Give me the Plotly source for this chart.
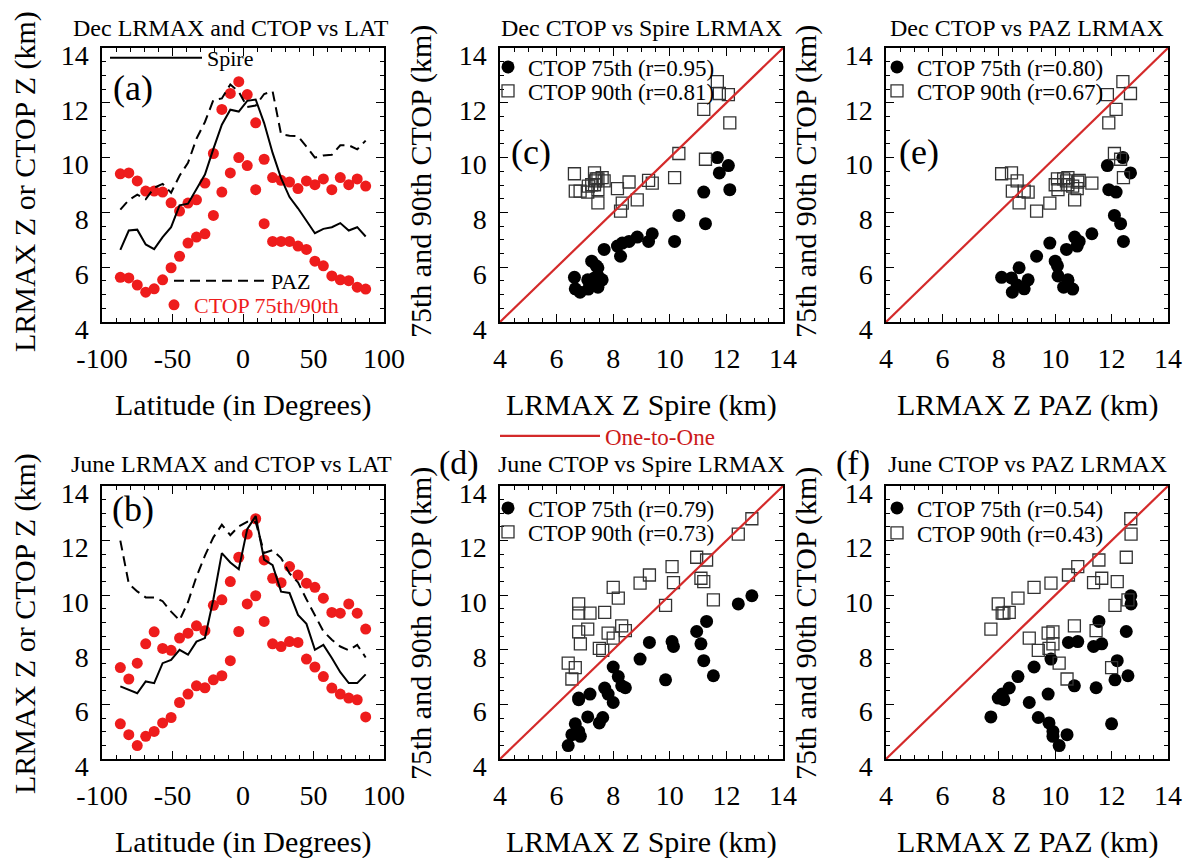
import plotly.graph_objects as go

# ---------------- data ----------------
lat = [-87, -81, -75, -69, -63, -57, -51, -45, -39, -33, -27, -21, -15, -9, -3,
       3, 9, 15, 21, 27, 33, 39, 45, 51, 57, 63, 69, 75, 81, 87]

# December
spire_dec = [6.63, 7.34, 7.37, 6.83, 6.66, 7.10, 7.46, 8.26, 8.32, 8.85, 9.38, 10.32, 11.20, 11.75, 11.68,
             12.07, 12.12, 11.26, 10.17, 9.25, 8.56, 8.15, 7.68, 7.24, 7.40, 7.46, 7.61, 7.34, 7.46, 7.12]
paz_dec = [8.10, 8.45, 8.65, 8.48, 8.90, 9.04, 8.72, 9.34, 9.81, 10.69, 11.30, 12.10, 12.16, 12.67, 12.40,
           11.85, 11.90, 12.32, 12.42, 10.85, 10.80, 10.78, 10.40, 10.00, 10.08, 10.10, 10.45, 10.45, 10.30, 10.62]
ctop75_dec = [5.63, 5.61, 5.35, 5.09, 5.21, 5.54, 5.98, 6.40, 6.88, 7.10, 7.22, 7.89, 8.74, 9.44, 10.00,
              9.71, 8.83, 7.59, 6.94, 6.94, 6.94, 6.77, 6.65, 6.22, 6.05, 5.68, 5.54, 5.51, 5.27, 5.20]
ctop90_dec = [9.41, 9.44, 9.15, 8.78, 8.78, 8.74, 8.35, 8.05, 8.34, 8.46, 9.07, 10.15, 11.76, 12.34, 12.77,
              12.30, 11.27, 9.94, 9.27, 9.17, 9.11, 8.87, 9.15, 9.01, 9.22, 8.83, 9.27, 9.01, 9.22, 8.96]

# June
spire_jun = [6.66, 6.54, 6.41, 6.84, 6.78, 7.51, 7.63, 8.00, 7.82, 8.30, 8.43, 9.85, 11.54, 11.20, 10.95,
             12.42, 12.90, 11.30, 11.10, 10.13, 10.08, 9.28, 8.95, 8.00, 8.18, 7.70, 7.18, 6.78, 6.78, 7.10]
paz_jun = [12.00, 10.42, 10.14, 9.92, 9.92, 9.78, 9.40, 9.08, 9.75, 10.68, 11.45, 12.12, 12.58, 12.20, 12.52,
           12.69, 12.68, 11.55, 11.65, 11.36, 10.80, 10.47, 9.85, 9.25, 8.68, 8.37, 8.12, 7.98, 8.18, 7.72]
ctop75_jun = [5.29, 4.89, 4.49, 4.83, 5.01, 5.32, 5.52, 6.07, 6.38, 6.68, 6.61, 6.90, 7.05, 7.60, 8.67,
              9.68, 9.98, 9.04, 8.22, 8.12, 8.30, 8.27, 7.66, 7.37, 7.02, 6.60, 6.38, 6.23, 6.17, 5.54]
ctop90_jun = [7.35, 6.93, 7.51, 8.22, 8.66, 8.05, 7.98, 8.43, 8.61, 8.88, 8.70, 9.63, 9.83, 10.50, 11.39,
              12.24, 12.80, 11.29, 10.62, 10.46, 11.05, 10.74, 10.44, 10.29, 9.89, 9.37, 9.34, 9.68, 9.34, 8.76]

one_to_one = [4, 14]

lat_ticks = [-100, -50, 0, 50, 100]
lat_ticktext = ["-100", "-50", "0", "50", "100"]
km_ticks = [4, 6, 8, 10, 12, 14]

r_labels = {
    "c": ("CTOP 75th (r=0.95)", "CTOP 90th (r=0.81)"),
    "d": ("CTOP 75th (r=0.79)", "CTOP 90th (r=0.73)"),
    "e": ("CTOP 75th (r=0.80)", "CTOP 90th (r=0.67)"),
    "f": ("CTOP 75th (r=0.54)", "CTOP 90th (r=0.43)"),
}

# ---------------- layout helpers ----------------
W, H = 1184, 858
FONT = "Liberation Serif, Times New Roman, Times, serif"
RED = "#ee1c1c"
LINE_RED = "#d42a2a"


def fx(p):
    return p / W


def fy(p):
    return 1 - p / H


boxes = {  # pixel boxes (left, right, top, bottom)
    "a": (102, 384, 48, 322), "b": (102, 384, 486, 759),
    "c": (500, 783, 48, 322), "d": (500, 783, 486, 759),
    "e": (886, 1168, 48, 322), "f": (886, 1168, 486, 759),
}
axis_id = {"a": "", "b": "2", "c": "3", "d": "4", "e": "5", "f": "6"}

fig = go.Figure()


def ax(k):
    return dict(xaxis="x" + axis_id[k], yaxis="y" + axis_id[k])


# --- latitude panels
for k, spire, paz, c75, c90, leg in (("a", spire_dec, paz_dec, ctop75_dec, ctop90_dec, True),
                                    ("b", spire_jun, paz_jun, ctop75_jun, ctop90_jun, False)):
    fig.add_trace(go.Scatter(x=lat, y=c90, mode="markers", name="CTOP 90th",
                             marker=dict(color=RED, size=11), showlegend=False, **ax(k)))
    fig.add_trace(go.Scatter(x=lat, y=c75, mode="markers", name="CTOP 75th/90th",
                             marker=dict(color=RED, size=11), showlegend=leg, legend="legend3", **ax(k)))
    fig.add_trace(go.Scatter(x=lat, y=spire, mode="lines", name="Spire",
                             line=dict(color="black", width=2), showlegend=leg, legend="legend", **ax(k)))
    fig.add_trace(go.Scatter(x=lat, y=paz, mode="lines", name="PAZ",
                             line=dict(color="black", width=2, dash="10px,6px"),
                             showlegend=leg, legend="legend2", **ax(k)))

# --- scatter panels
scat = (("c", spire_dec, ctop75_dec, ctop90_dec, ("legend4", "legend5")),
        ("d", spire_jun, ctop75_jun, ctop90_jun, ("legend6", "legend7")),
        ("e", paz_dec, ctop75_dec, ctop90_dec, ("legend9", "legend10")),
        ("f", paz_jun, ctop75_jun, ctop90_jun, ("legend11", "legend12")))
for k, xv, c75, c90, lg in scat:
    fig.add_trace(go.Scatter(x=xv, y=c75, mode="markers", name=r_labels[k][0],
                             marker=dict(color="black", size=13, symbol="circle"),
                             legend=lg[0], **ax(k)))
    fig.add_trace(go.Scatter(x=xv, y=c90, mode="markers", name=r_labels[k][1],
                             marker=dict(color="#333333", size=12, symbol="square-open",
                                         line=dict(width=1.3, color="#333333")),
                             legend=lg[1], **ax(k)))
    fig.add_trace(go.Scatter(x=one_to_one, y=one_to_one, mode="lines", name="One-to-One",
                             line=dict(color=LINE_RED, width=2.2), showlegend=(k == "c"),
                             legend="legend8", **ax(k)))

# --- axes
layout_axes = {}
for k, (l, r, t, b) in boxes.items():
    i = axis_id[k]
    common = dict(showline=True, linecolor="black", linewidth=1.5, mirror="allticks",
                  ticks="inside", ticklen=8, tickwidth=1.2, tickcolor="black",
                  showgrid=False, zeroline=False, automargin=False,
                  tickfont=dict(family=FONT, size=28, color="black"))
    if k in ("a", "b"):
        xa = dict(range=[-100, 100], tickvals=lat_ticks, ticktext=lat_ticktext,
                  minor=dict(ticks="inside", ticklen=4, dtick=10, tickcolor="black", tickwidth=1))
    else:
        xa = dict(range=[4, 14], tickvals=km_ticks,
                  minor=dict(ticks="inside", ticklen=4, dtick=0.5, tickcolor="black", tickwidth=1))
    xa.update(common, domain=[fx(l), fx(r)], anchor="y" + i, ticklabelstandoff=11)
    ya = dict(range=[4, 14], tickvals=km_ticks,
              minor=dict(ticks="inside", ticklen=4, dtick=0.5, tickcolor="black", tickwidth=1))
    ya.update(common, domain=[fy(b), fy(t)], anchor="x" + i, ticklabelstandoff=6,
              ticklabelshift=7)
    layout_axes["xaxis" + i] = xa
    layout_axes["yaxis" + i] = ya

fig.update_layout(**layout_axes)

# --- annotations
ann = []


def text(x, y, s, size, color="black", angle=0, xanchor="center"):
    ann.append(dict(x=fx(x), y=fy(y), xref="paper", yref="paper", text=s, showarrow=False,
                    textangle=angle, xanchor=xanchor, yanchor="middle",
                    font=dict(family=FONT, size=size, color=color)))


text(231, 28, "Dec LRMAX and CTOP vs LAT", 24)
text(641, 28, "Dec CTOP vs Spire LRMAX", 24)
text(1027, 28, "Dec CTOP vs PAZ LRMAX", 24)
text(231, 464, "June LRMAX and CTOP vs LAT", 24)
text(641, 464, "June CTOP vs Spire LRMAX", 24)
text(1027, 464, "June CTOP vs PAZ LRMAX", 24)

text(133, 88, "(a)", 36)
text(133, 509, "(b)", 36)
text(531, 152, "(c)", 36)
text(919, 152, "(e)", 36)
text(459, 463, "(d)", 34)
text(853, 463, "(f)", 34)

for yrow in (405, 842):
    text(243, yrow, "Latitude (in Degrees)", 30)
    text(641, yrow, "LRMAX Z Spire (km)", 30)
    text(1027, yrow, "LRMAX Z PAZ (km)", 30)
for ycen in (182, 624):
    text(25, ycen, "LRMAX Z or CTOP Z (km)", 30, angle=-90)
    text(421, ycen, "75th and 90th CTOP (km)", 30, angle=-90)
    text(806, ycen, "75th and 90th CTOP (km)", 30, angle=-90)

fig.update_layout(annotations=ann)


# --- legends (one box per entry, placed where the reference puts them)
def legend(x, y, color="black", itemwidth=30, size=22):
    return dict(x=fx(x), y=fy(y), xref="paper", yref="paper", xanchor="left", yanchor="middle",
                bgcolor="rgba(0,0,0,0)", borderwidth=0, itemwidth=itemwidth,
                font=dict(family=FONT, size=size, color=color))


fig.update_layout(
    legend=legend(105, 58, itemwidth=92),
    legend2=legend(169, 281, itemwidth=92),
    legend3=legend(154, 305, color=RED),
    legend4=legend(488, 67, size=23),
    legend5=legend(488, 91, size=23),
    legend6=legend(488, 508, size=23),
    legend7=legend(488, 532, size=23),
    legend9=legend(877, 67, size=23),
    legend10=legend(877, 91, size=23),
    legend11=legend(877, 508, size=23),
    legend12=legend(877, 533, size=23),
    legend8=legend(495, 436, color="#cc1a1a", itemwidth=100, size=23),
)

fig.update_layout(template="none", width=W, height=H, autosize=False,
                  margin=dict(l=0, r=0, t=0, b=0, pad=0),
                  paper_bgcolor="white", plot_bgcolor="white",
                  font=dict(family=FONT, color="black"))

fig.write_html("out.html")
